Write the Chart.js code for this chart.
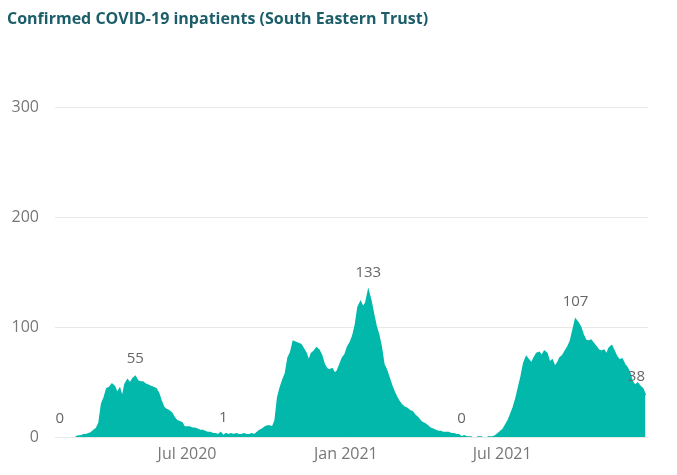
<!DOCTYPE html>
<html>
<head>
<meta charset="utf-8">
<script src="https://cdn.jsdelivr.net/npm/chart.js@4.4.0/dist/chart.umd.min.js"></script>
<style>
  html, body { margin: 0; padding: 0; background: #fff; }
  canvas { display: block; }
</style>
</head>
<body>
<canvas id="chart" width="677" height="475"></canvas>
<script>
// first sample = 22 Feb 2020 (day 53 of 2020), one sample every 3 days
const startDay = 53;
const stepDays = 3;

// confirmed inpatients
const inpatients = [
  0, 1, 1, 2, 2, 3, 4, 6, 8, 13,
  30, 36, 44, 45, 48, 46, 40, 44, 36, 48,
  52, 49, 53, 55, 51, 50, 50, 48, 47, 46,
  45, 44, 40, 33, 27, 25, 24, 22, 18, 15,
  14, 13, 9, 9, 9, 8, 8, 7, 6, 6,
  5, 4, 4, 3, 3, 2, 4, 1, 3, 2,
  3, 2, 3, 2, 2, 3, 2, 2, 3, 2,
  4, 6, 7, 9, 10, 10, 9, 15, 36, 45,
  52, 58, 72, 77, 87, 86, 85, 84, 80, 76,
  69, 76, 78, 81, 79, 74, 66, 62, 61, 62,
  58, 60, 66, 72, 75, 82, 86, 92, 102, 118,
  123, 118, 122, 133, 124, 112, 101, 93, 82, 66,
  61, 54, 47, 41, 36, 32, 29, 27, 26, 24,
  23, 20, 18, 15, 13, 12, 10, 8, 7, 6,
  5, 5, 4, 4, 4, 3, 3, 2, 2, 0,
  1, 0, 0, 0, null, 0, 0, 0, null, 0,
  0, 0, 1, 3, 5, 7, 11, 15, 21, 27,
  35, 45, 55, 67, 73, 70, 67, 72, 76, 77,
  74, 78, 76, 68, 70, 64, 67, 72, 74, 78,
  82, 87, 97, 107, 104, 100, 93, 88, 87, 88,
  85, 82, 79, 78, 79, 75, 81, 83, 78, 73,
  70, 71, 66, 63, 58, 50, 47, 49, 46, 44,
  38
];

// x axis ticks (day of 2020)
const tickDays = [182, 366, 547];
const tickLabels = ['Jul 2020', 'Jan 2021', 'Jul 2021'];

// points that carry a value label, and their sideways nudge
const labelIdx = [0, 23, 57, 113, 149, 193, 220];
const labelShift = [-16, 0, 0, 0, 0, 0, -9];

const titleText = 'Confirmed COVID-19 inpatients (South Eastern Trust)';

const points = inpatients.map((v, i) => ({ x: startDay + i * stepDays, y: v }));

const teal = '#01B8AA';
const grey = '#777777';
const font = '"Open Sans", "Noto Sans", sans-serif';

const extras = {
  id: 'extras',
  afterDraw(chart) {
    const ctx = chart.ctx;
    const xs = chart.scales.x, ys = chart.scales.y;
    ctx.save();
    // title
    ctx.fillStyle = '#1B5E69';
    ctx.font = '700 16px ' + font;
    ctx.textAlign = 'left';
    ctx.textBaseline = 'middle';
    ctx.fillText(titleText, 7, 19);
    // data labels
    ctx.fillStyle = '#666666';
    ctx.font = '15px ' + font;
    ctx.textAlign = 'center';
    labelIdx.forEach((idx, k) => {
      const p = points[idx];
      const px = xs.getPixelForValue(p.x) + labelShift[k];
      const py = ys.getPixelForValue(p.y) - 18;
      ctx.fillText(String(p.y), px, py);
    });
    ctx.restore();
  }
};

new Chart(document.getElementById('chart'), {
  type: 'line',
  data: {
    datasets: [{
      data: points,
      borderColor: teal,
      backgroundColor: teal,
      borderWidth: 1.5,
      pointRadius: 0,
      fill: 'origin',
      tension: 0,
      spanGaps: false
    }]
  },
  options: {
    responsive: false,
    animation: false,
    devicePixelRatio: 1,
    layout: { padding: { top: 107, right: 29, left: 0, bottom: 0 } },
    plugins: {
      legend: { display: false },
      tooltip: { enabled: false }
    },
    scales: {
      x: {
        type: 'linear',
        min: 29,
        max: 716,
        afterFit(scale) { scale.height = 38; },
        afterBuildTicks(scale) {
          scale.ticks = tickDays.map(v => ({ value: v }));
        },
        grid: { display: false, drawTicks: false },
        border: { display: false },
        ticks: {
          padding: 8,
          color: grey,
          font: { family: font, size: 16 },
          maxRotation: 0,
          autoSkip: false,
          callback(value) {
            const k = tickDays.indexOf(value);
            return k >= 0 ? tickLabels[k] : '';
          }
        }
      },
      y: {
        min: 0,
        max: 300,
        afterFit(scale) { scale.width = 55; },
        grid: { color: '#E8E8E8', lineWidth: 1, drawTicks: false },
        border: { display: false },
        ticks: {
          stepSize: 100,
          padding: 16,
          color: grey,
          font: { family: font, size: 16 }
        }
      }
    }
  },
  plugins: [extras]
});
</script>
</body>
</html>
